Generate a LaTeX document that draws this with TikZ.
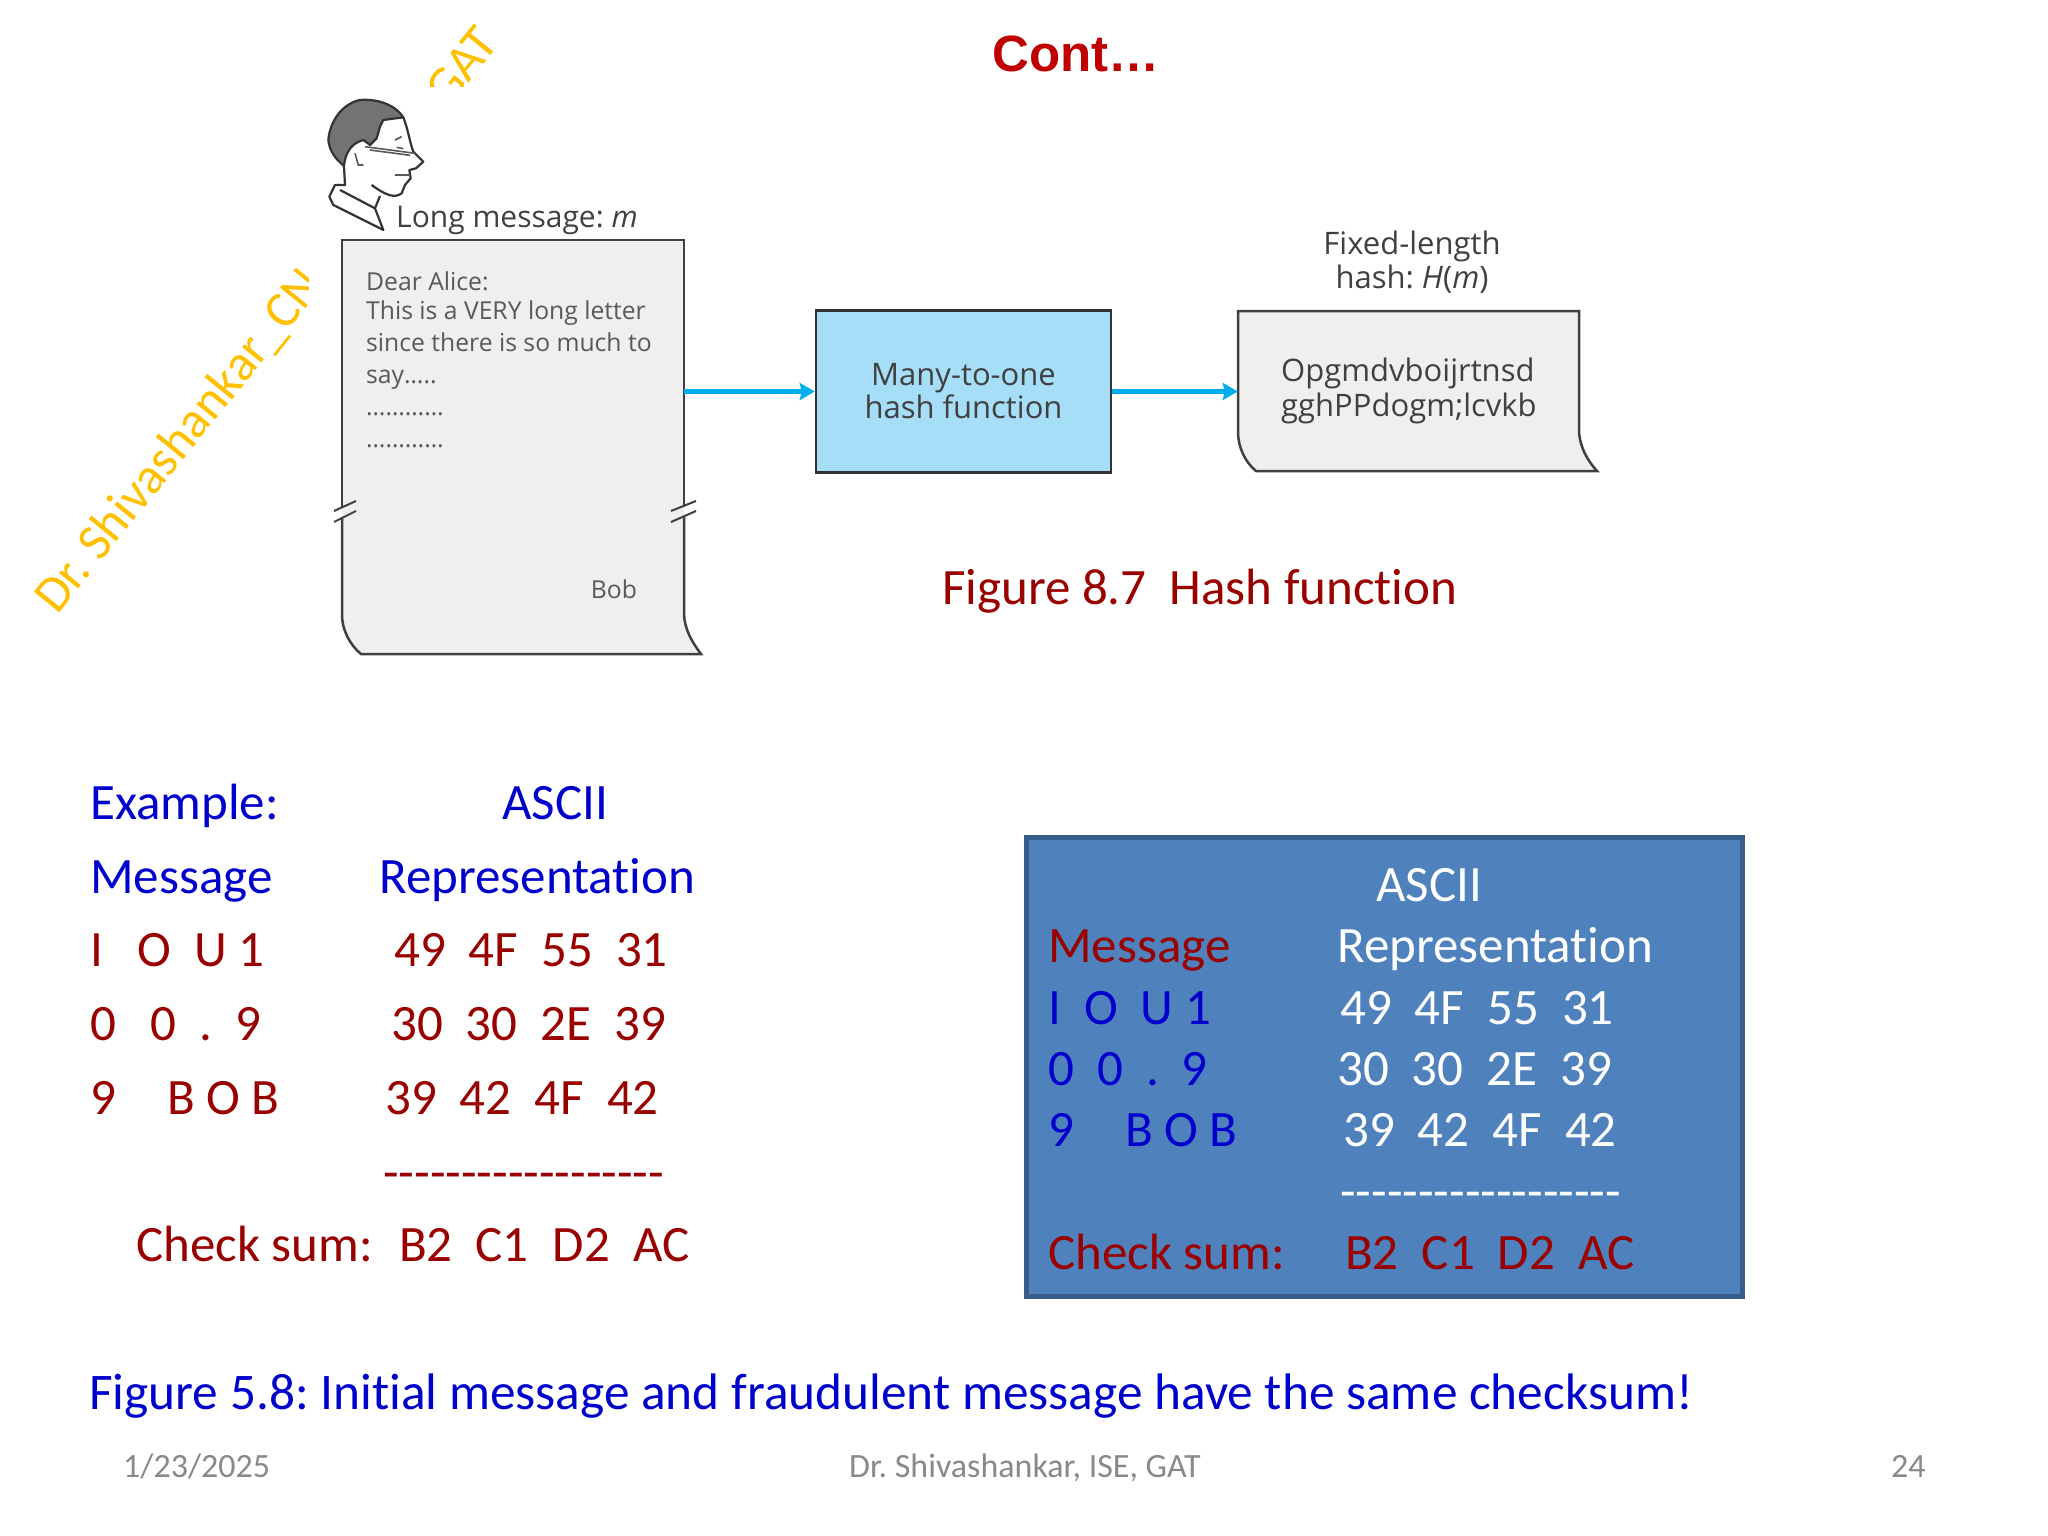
\documentclass[tikz,border=0pt]{standalone}
\usepackage{fontspec}
\setmainfont[Ligatures=NoCommon]{Carlito}
\newfontfamily\figfont{Open Sans}
\newfontfamily\titlefont{Liberation Sans}
\usetikzlibrary{arrows.meta}
\definecolor{deepred}{HTML}{990000}
\definecolor{titlered}{HTML}{C00000}
\definecolor{deepblue}{HTML}{0000CC}
\definecolor{gold}{HTML}{FFC000}
\definecolor{slateblue}{HTML}{4F81BD}
\definecolor{slateedge}{HTML}{385D8A}
\definecolor{skyfill}{HTML}{A6DDF7}
\definecolor{flowcyan}{HTML}{00AEEF}
\definecolor{paperfill}{HTML}{EFEFEF}
\definecolor{footgray}{HTML}{898989}
\newcommand{\dashrow}{-{}-{}-{}-{}-{}-{}-{}-{}-{}-{}-{}-{}-{}-{}-{}-{}-{}-}
\begin{document}
\frenchspacing
\begin{tikzpicture}[
				        x=1pt,y=-1pt,
				        >={Stealth[length=15pt,width=17pt,inset=2pt]},
				        body/.style={anchor=base west,inner sep=0pt,font=\fontsize{51}{60}\selectfont},
				        redrow/.style={body,text=deepred},
				        bluerow/.style={body,text=deepblue},
				        whiterow/.style={body,text=white},
				        foot/.style={anchor=base west,inner sep=0pt,text=footgray,font=\fontsize{34}{40}\selectfont},
				        small/.style={inner sep=0pt,text=black!75,font=\figfont\fontsize{30}{34}\selectfont},
				        lettersize/.style={text=black!65,font=\figfont\fontsize{24.7}{32}\selectfont},
				        stamp/.style={anchor=base west,inner sep=0pt,text=gold,rotate=51,font=\fontsize{51}{60}\selectfont},
				        outline/.style={draw=black!75,line width=2.5pt},
				        sketch/.style={draw=black!80,line width=2.2pt,line join=round},
				        flow/.style={draw=flowcyan,fill=flowcyan,line width=5.5pt}
				        ]
				        \useasboundingbox (0,0) rectangle (2048,1536);

				        \node[inner sep=0pt,text=titlered,font=\titlefont\bfseries\fontsize{51}{60}\selectfont] (title) at (1076,54) {Cont\ldots};

				        \begin{scope}
				            \clip (0,0) rectangle (308,1000);
				            \node[stamp] (stampleft) at (57,616) {Dr. Shivashankar\_CN};
				        \end{scope}
				        \begin{scope}
				            \clip (400,0) rectangle (600,87);
				            \node[stamp] (stampright) at (448,109) {GAT};
				        \end{scope}

				        \begin{scope}[shift={(320,90)},scale=0.3333]
				            \fill[black!55,sketch] (250,82) .. controls (230,50) and (180,25) .. (120,30) .. controls (70,40) and (30,90) .. (25,150) .. controls (28,185) and (50,210) .. (72,228) .. controls (75,195) and (90,160) .. (130,150) -- (150,165) -- (170,145) -- (180,110) -- (190,90) -- cycle;
				            \draw[sketch] (250,82) .. controls (265,120) and (270,160) .. (280,185) -- (310,215) -- (288,235) -- (268,240) -- (272,265) -- (255,285) -- (245,310) .. controls (225,325) and (200,318) .. (155,285);
				            \draw[sketch] (180,318) -- (165,355) -- (190,420) -- (40,345) -- (28,320) -- (45,285) -- (75,285) -- (72,228);
				            \draw[sketch] (60,300) -- (165,355);
				            \draw[black!65,line width=1.6pt] (135,170) -- (285,190) (150,180) -- (270,196) (105,190) -- (115,225) -- (130,225) (225,150) -- (245,140) (230,172) -- (250,176) (225,255) -- (270,255);
				        \end{scope}

				        \node[minimum width=342pt,minimum height=414pt,inner sep=0pt] (letter) at (513,447) {};
				        \fill[paperfill] (342,240) -- (684,240) -- (684,615) .. controls (685,630) and (692,642) .. (701,654) -- (361,654) .. controls (350,645) and (342,630) .. (342,615) -- cycle;
				        \draw[outline] (342,507) -- (342,240) -- (684,240) -- (684,507);
				        \draw[outline] (342,517) -- (342,615) .. controls (342,630) and (350,645) .. (361,654) -- (701,654) .. controls (692,642) and (685,630) .. (684,615) -- (684,517);
				        \foreach \xa/\xb in {334/356,671/696} {
				            \draw[black!75,line width=2pt] (\xa,522) -- (\xb,511) (\xa,511) -- (\xb,501);
				        }
				        \node[small,anchor=base west] (longmsg) at (396,227) {Long message: \textit{m}};
				        \node[small,lettersize,anchor=north west,align=left] (lettertext) at (366,272) {Dear Alice:\\[-3pt]This is a VERY long letter\\since there is so much to\\say\ldots..\\\ldots\ldots\ldots\ldots\\\ldots\ldots\ldots\ldots};
				        \node[small,lettersize] (bob) at (614,589) {Bob};

				        \node[draw=black!80,line width=2.5pt,fill=skyfill,minimum width=295pt,minimum height=162pt,inner sep=0pt,align=center,text=black!75,font=\figfont\fontsize{31}{33}\selectfont] (hashbox) at (963.5,391.5) {Many-to-one\\hash function};

				        \node[minimum width=341pt,minimum height=160pt,inner sep=0pt] (digest) at (1408.5,391.5) {};
				        \fill[paperfill] (1238,311) -- (1579,311) -- (1579,432) .. controls (1580,447) and (1587,460) .. (1597,471) -- (1256,471) .. controls (1245,462) and (1238,447) .. (1238,432) -- cycle;
				        \draw[outline] (1238,311) -- (1579,311) -- (1579,432) .. controls (1580,447) and (1587,460) .. (1597,471) -- (1256,471) .. controls (1245,462) and (1238,447) .. (1238,432) -- cycle;
				        \node[small,align=center,font=\figfont\fontsize{31}{34}\selectfont] (fixedlabel) at (1412,262) {Fixed-length\\hash: \textit{H}(\textit{m})};
				        \node[small,anchor=west,align=left,font=\figfont\fontsize{31}{35}\selectfont] (digesttext) at (1281,391) {Opgmdvboijrtnsd\\gghPPdogm;lcvkb};

				        \path
				              (letter.east |- hashbox.west) edge[->,flow] (hashbox.west)

				              (hashbox.east) edge[->,flow] (digest.west);

				        \node[redrow] (caption) at (942,604.5) {Figure 8.7\ \ Hash function};

				        \node[bluerow] (exhead) at (90,819) {Example:};
				        \node[bluerow] (exascii) at (502,819) {ASCII};
				        \node[bluerow] (exmsg) at (90,893.5) {Message};
				        \node[bluerow] (exrep) at (379,893.5) {Representation};
				        \node[redrow] (exa) at (90,966) {I\ \ \ O\ \ U 1};
				        \node[redrow] (exahex) at (394,966) {49\ \ 4F\ \ 55\ \ 31};
				        \node[redrow] (exb) at (90,1040) {0\ \ \ 0\ \ .\ \ 9};
				        \node[redrow] (exbhex) at (391,1040) {30\ \ 30\ \ 2E\ \ 39};
				        \node[redrow] (exc) at (90,1114.5) {9\hspace{51pt}B O B};
				        \node[redrow] (exchex) at (385,1114.5) {39\ \ 42\ \ 4F\ \ 42};
				        \node[redrow] (exdash) at (383,1189) {\dashrow};
				        \node[redrow] (exsum) at (136,1261) {Check sum:\ \ \hspace{3pt}B2\ \ C1\ \ \hspace{1pt}D2\ \ AC};

				        \node[draw=slateedge,line width=5pt,fill=slateblue,minimum width=716pt,minimum height=459pt,inner sep=0pt] (panel) at (1384.5,1067) {};
				        \node[whiterow] (pascii) at (1376,901) {ASCII};
				        \node[redrow] (pmsg) at (1048,962) {Message};
				        \node[whiterow] (prep) at (1337,962) {Representation};
				        \node[bluerow] (pa) at (1048,1024) {I\ \ O\ \ U 1};
				        \node[whiterow] (pahex) at (1340,1024) {49\ \ 4F\ \ 55\ \ 31};
				        \node[bluerow] (pb) at (1048,1085) {0\ \ 0\ \ .\ \ 9};
				        \node[whiterow] (pbhex) at (1337,1085) {30\ \ 30\ \ 2E\ \ 39};
				        \node[bluerow] (pc) at (1048,1146) {9\hspace{51pt}B O B};
				        \node[whiterow] (pchex) at (1343,1146) {39\ \ 42\ \ 4F\ \ 42};
				        \node[whiterow] (pdash) at (1340,1208) {\dashrow};
				        \node[redrow] (psum) at (1048,1269) {Check sum:};
				        \node[redrow] (psumhex) at (1345,1269) {B2\ \ C1\ \ D2\ \ AC};

				        \node[bluerow,font=\fontsize{51.35}{60}\selectfont] (closing) at (89,1409) {Figure 5.8: Initial message and fraudulent message have the same checksum!};

				        \node[foot] (footdate) at (123,1477) {1/23/2025};
				        \node[foot] (footname) at (849,1477) {Dr. Shivashankar, ISE, GAT};
				        \node[foot] (footpage) at (1891,1477) {24};
				    \end{tikzpicture}
\end{document}
